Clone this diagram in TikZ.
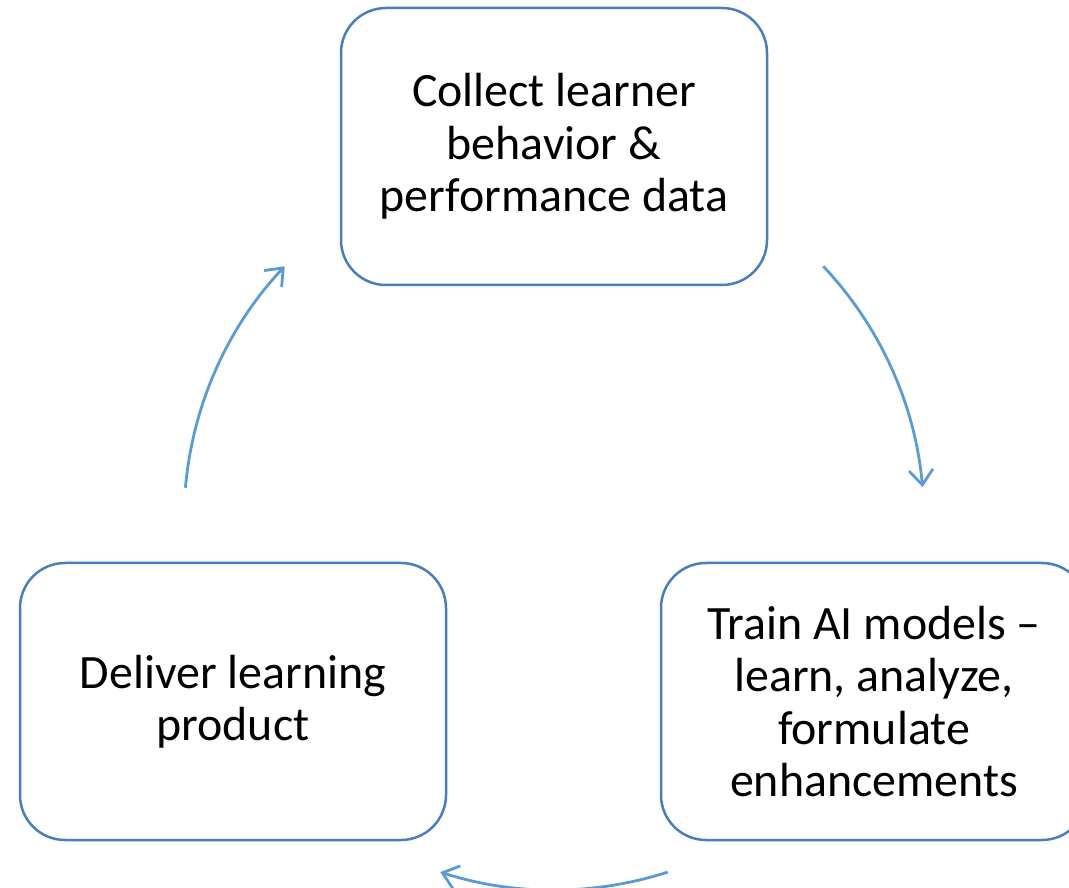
\documentclass[tikz,border=0pt]{standalone}
\usepackage{fontspec}
\setmainfont{Carlito}
\usetikzlibrary{arrows.meta,calc}
\definecolor{boxline}{HTML}{4A7EBB}
\definecolor{arrowline}{HTML}{5B9BD5}
\begin{document}
\begin{tikzpicture}[x=1pt,y=1pt,
  stepbox/.style={draw=boxline, line width=2.5pt, rounded corners=45pt,
    minimum width=426pt, minimum height=277pt, align=center, inner sep=0pt,
    font=\fontsize{47.9}{52.5}\selectfont},
  cyc/.style={draw=arrowline, line width=2.8pt, -{Straight Barb[length=15pt,width=24pt,line width=2.8pt]}}]
\useasboundingbox (0,0) rectangle (1069,887);
\clip (0,0) rectangle (1069,887);
\node[stepbox] (collect) at (554,740.5) {Collect learner\\behavior \&\\performance data};
\node[stepbox] (train) at (874,185.5) {Train AI models –\\learn, analyze,\\formulate\\enhancements};
\node[stepbox] (deliver) at (233,185.5) {Deliver learning\\product};
\coordinate (c) at (554,367);
\coordinate (a1) at ($(c)+(43.3:370)$);
\coordinate (a2) at ($(c)+(-72.1:370)$);
\coordinate (a3) at ($(c)+(175:370)$);
\draw[cyc] (a1) arc[start angle=43.3, end angle=5.1, radius=370];
\draw[cyc] (a2) arc[start angle=-72.1, end angle=-107.9, radius=370];
\draw[cyc] (a3) arc[start angle=175, end angle=136.7, radius=370];
\end{tikzpicture}
\end{document}
